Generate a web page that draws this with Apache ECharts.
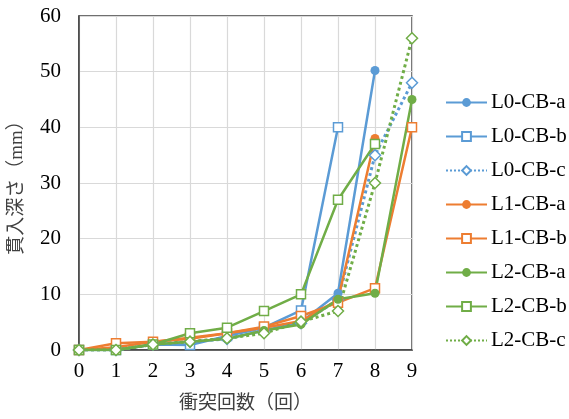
<!DOCTYPE html>
<html>
<head>
<meta charset="utf-8">
<script src="https://cdn.jsdelivr.net/npm/echarts@6/dist/echarts.min.js"></script>
<style>
  html, body { margin: 0; padding: 0; background: #fff; }
  #chart { width: 569px; height: 419px; }
</style>
</head>
<body>
<div id="chart"></div>
<script>
// 衝突回数
const hits = [0, 1, 2, 3, 4, 5, 6, 7, 8, 9];

// 貫入深さ (mm)
const l0a = [0, 0, 1, 1.5, 2, 3.5, 5, 10.2, 50.2];
const l0b = [0, 0, 1, 0.9, 2.5, 4, 7.1, 40];
const l0c = [0, 0, 1, 1.5, 2, 3.5, 4.8, 9, 35, 48];
const l1a = [0, 0.5, 1.5, 2, 3, 4, 5.2, 9, 38];
const l1b = [0, 1.2, 1.5, 2.2, 3, 4.2, 6.1, 8.5, 11.1, 40];
const l2a = [0, 0, 1, 1.5, 2, 3.5, 4.6, 9.1, 10.2, 45];
const l2b = [0, 0, 1, 3, 4, 7, 10, 27, 37];
const l2c = [0, 0, 1, 1.5, 2.1, 3, 5.1, 7, 30, 56];

const BLUE = '#5b9bd5';
const ORANGE = '#ed7d31';
const GREEN = '#70ad47';
const serif = "'Liberation Serif', 'Noto Sans CJK JP', serif";

function pairs(vals) {
    return vals.map((v, i) => [hits[i], v]);
}

function makeSeries(name, vals, color, kind) {
    const s = {
        name: name,
        type: 'line',
        data: pairs(vals),
        lineStyle: { color: color, width: 2.5 },
        symbolSize: 9,
        z: 2
    };
    if (kind === 'a') {
        s.symbol = 'circle';
        s.itemStyle = { color: color };
    } else if (kind === 'b') {
        s.symbol = 'rect';
        s.symbolSize = 9;
        s.itemStyle = { color: '#fff', borderColor: color, borderWidth: 1.5 };
    } else {
        s.symbol = 'diamond';
        s.symbolSize = 11;
        s.lineStyle.type = 'dotted';
        s.lineStyle.width = 3;
        s.itemStyle = { color: '#fff', borderColor: color, borderWidth: 1.5 };
    }
    return s;
}

const chart = echarts.init(document.getElementById('chart'), null, { renderer: 'canvas' });

const option = {
    backgroundColor: '#fff',
    animation: false,
    grid: {
        left: 78,
        right: 157,
        top: 16,
        bottom: 69,
        show: true,
        borderColor: '#404040',
        borderWidth: 1.5
    },
    legend: {
        orient: 'vertical',
        left: 440,
        top: 87,
        itemWidth: 41,
        itemHeight: 11,
        itemGap: 13,
        textStyle: { fontFamily: serif, fontSize: 21, lineHeight: 20, color: '#000', padding: [0, 0, 0, -1] }
    },
    xAxis: {
        type: 'value',
        min: 0,
        max: 9,
        interval: 1,
        name: '衝突回数（回）',
        nameLocation: 'middle',
        nameGap: 45,
        nameTextStyle: { fontFamily: serif, fontSize: 19, color: '#404040' },
        axisLine: { lineStyle: { color: '#404040', width: 1.5 } },
        axisTick: { show: false },
        axisLabel: { fontFamily: serif, fontSize: 21, color: '#000', margin: 11 },
        splitLine: { show: true, lineStyle: { color: '#d9d9d9', width: 1.2 } }
    },
    yAxis: {
        type: 'value',
        min: 0,
        max: 60,
        interval: 10,
        name: '貫入深さ（mm）',
        nameLocation: 'middle',
        nameGap: 52,
        nameTextStyle: { fontFamily: serif, fontSize: 19, color: '#404040' },
        axisLine: { show: true, lineStyle: { color: '#404040', width: 1.5 } },
        axisTick: { show: false },
        axisLabel: { fontFamily: serif, fontSize: 21, color: '#000', margin: 18 },
        splitLine: { show: true, lineStyle: { color: '#d9d9d9', width: 1.2 } }
    },
    series: [
        makeSeries('L0-CB-a', l0a, BLUE, 'a'),
        makeSeries('L0-CB-b', l0b, BLUE, 'b'),
        makeSeries('L0-CB-c', l0c, BLUE, 'c'),
        makeSeries('L1-CB-a', l1a, ORANGE, 'a'),
        makeSeries('L1-CB-b', l1b, ORANGE, 'b'),
        makeSeries('L2-CB-a', l2a, GREEN, 'a'),
        makeSeries('L2-CB-b', l2b, GREEN, 'b'),
        makeSeries('L2-CB-c', l2c, GREEN, 'c')
    ]
};

chart.setOption(option);
</script>
</body>
</html>
